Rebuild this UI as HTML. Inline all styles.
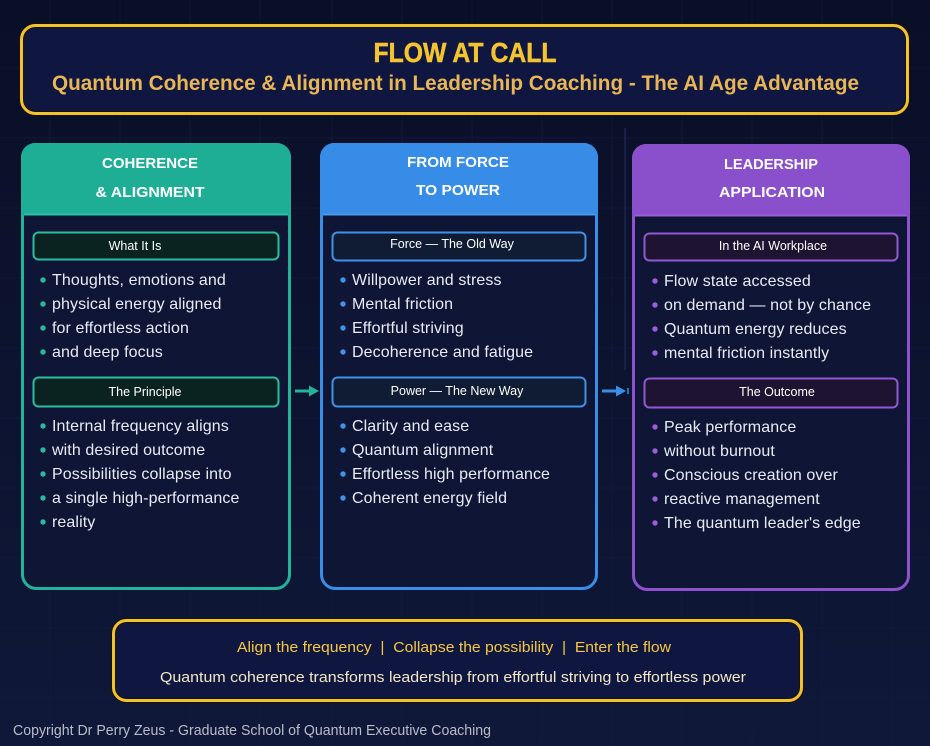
<!DOCTYPE html>
<html><head><meta charset="utf-8"><style>
html,body{margin:0;padding:0;background:#0c1230;}
svg{display:block;}
</style></head><body>
<svg width="930" height="746" viewBox="0 0 930 746" xmlns="http://www.w3.org/2000/svg">
<defs>
<linearGradient id="bg" x1="0" y1="0" x2="0" y2="1">
<stop offset="0" stop-color="#0a0f27"/>
<stop offset="1" stop-color="#0f1839"/>
</linearGradient>
</defs>
<rect width="930" height="746" fill="url(#bg)"/>
<g stroke="#151d40" stroke-width="1" opacity="0.6">
<line x1="50" y1="0" x2="50" y2="746"/><line x1="120" y1="0" x2="120" y2="746"/><line x1="190" y1="0" x2="190" y2="746"/><line x1="260" y1="0" x2="260" y2="746"/><line x1="332" y1="0" x2="332" y2="746"/><line x1="402" y1="0" x2="402" y2="746"/><line x1="472" y1="0" x2="472" y2="746"/><line x1="542" y1="0" x2="542" y2="746"/><line x1="612" y1="0" x2="612" y2="746"/><line x1="682" y1="0" x2="682" y2="746"/><line x1="752" y1="0" x2="752" y2="746"/><line x1="822" y1="0" x2="822" y2="746"/><line x1="892" y1="0" x2="892" y2="746"/>
<line x1="0" y1="68" x2="930" y2="68"/><line x1="0" y1="138" x2="930" y2="138"/><line x1="0" y1="208" x2="930" y2="208"/><line x1="0" y1="278" x2="930" y2="278"/><line x1="0" y1="348" x2="930" y2="348"/><line x1="0" y1="418" x2="930" y2="418"/><line x1="0" y1="488" x2="930" y2="488"/><line x1="0" y1="558" x2="930" y2="558"/><line x1="0" y1="628" x2="930" y2="628"/><line x1="0" y1="698" x2="930" y2="698"/>
</g>
<line x1="625" y1="128" x2="625" y2="370" stroke="#182048" stroke-width="2"/>

<!-- Title box -->
<rect x="21.5" y="25.5" width="886" height="88" rx="14" fill="#0f1640" stroke="#1a1200" stroke-width="5"/>
<rect x="21.5" y="25.5" width="886" height="88" rx="14" fill="none" stroke="#f1c232" stroke-width="3"/>
<text x="465" y="62" text-anchor="middle" font-family="Liberation Sans, sans-serif" font-weight="bold" font-size="28" fill="#f4c430" stroke="#f4c430" stroke-width="0.5" textLength="183" lengthAdjust="spacingAndGlyphs">FLOW AT CALL</text>
<text x="455.5" y="90" text-anchor="middle" font-family="Liberation Sans, sans-serif" font-weight="bold" font-size="21" fill="#e8b656" textLength="807" lengthAdjust="spacingAndGlyphs">Quantum Coherence &amp; Alignment in Leadership Coaching - The AI Age Advantage</text>

<!-- Panel 1 -->
<rect x="22.5" y="144.5" width="267" height="444" rx="14" fill="#0e1535" stroke="#22b39a" stroke-width="3"/>
<path d="M21 215 V157 a14 14 0 0 1 14 -14 H277 a14 14 0 0 1 14 14 V215 Z" fill="#1eae95"/>
<line x1="24" y1="214.5" x2="288" y2="214.5" stroke="#2ac2a6" stroke-width="2"/>
<g font-family="Liberation Sans, sans-serif" font-weight="bold" font-size="15" fill="#ffffff" text-anchor="middle">
<text x="150" y="168" textLength="96" lengthAdjust="spacingAndGlyphs">COHERENCE</text>
<text x="150" y="197" textLength="109" lengthAdjust="spacingAndGlyphs">&amp; ALIGNMENT</text>
</g>
<rect x="33.5" y="232.5" width="245" height="27" rx="5" fill="#0b2320" stroke="#2bbd9f" stroke-width="2"/>
<rect x="33.5" y="377.5" width="245" height="29" rx="5" fill="#0b2320" stroke="#2bbd9f" stroke-width="2"/>
<g font-family="Liberation Sans, sans-serif" font-size="12.5" fill="#ffffff" text-anchor="middle">
<text x="135" y="250">What It Is</text>
<text x="145" y="396">The Principle</text>
</g>
<g fill="#2ab89d">
<circle cx="43" cy="280" r="2.7"/><circle cx="43" cy="304" r="2.7"/><circle cx="43" cy="328" r="2.7"/><circle cx="43" cy="352" r="2.7"/>
<circle cx="43" cy="426" r="2.7"/><circle cx="43" cy="450" r="2.7"/><circle cx="43" cy="474" r="2.7"/><circle cx="43" cy="498" r="2.7"/><circle cx="43" cy="522" r="2.7"/>
</g>
<g font-family="Liberation Sans, sans-serif" font-size="16" fill="#e9ecf5" letter-spacing="0.1">
<text x="52" y="285">Thoughts, emotions and</text>
<text x="52" y="309">physical energy aligned</text>
<text x="52" y="333">for effortless action</text>
<text x="52" y="357">and deep focus</text>
<text x="52" y="431">Internal frequency aligns</text>
<text x="52" y="455">with desired outcome</text>
<text x="52" y="479">Possibilities collapse into</text>
<text x="52" y="503">a single high-performance</text>
<text x="52" y="527">reality</text>
</g>

<!-- Arrow 1 -->
<line x1="295" y1="391" x2="311" y2="391" stroke="#22b39a" stroke-width="3"/>
<polygon points="309,385.5 319,391 309,396.5" fill="#22b39a"/>

<!-- Panel 2 -->
<rect x="321.5" y="144.5" width="275" height="444" rx="14" fill="#0e1535" stroke="#3a8ee6" stroke-width="3"/>
<path d="M320 215 V157 a14 14 0 0 1 14 -14 H584 a14 14 0 0 1 14 14 V215 Z" fill="#368ce6"/>
<line x1="323" y1="214.5" x2="595" y2="214.5" stroke="#4a9af0" stroke-width="2"/>
<g font-family="Liberation Sans, sans-serif" font-weight="bold" font-size="15" fill="#ffffff" text-anchor="middle">
<text x="458" y="167" textLength="102" lengthAdjust="spacingAndGlyphs">FROM FORCE</text>
<text x="458" y="195" textLength="84" lengthAdjust="spacingAndGlyphs">TO POWER</text>
</g>
<rect x="332.5" y="232.5" width="253" height="28" rx="5" fill="#0f1c33" stroke="#3f92e8" stroke-width="2"/>
<rect x="332.5" y="377.5" width="253" height="29" rx="5" fill="#0f1c33" stroke="#3f92e8" stroke-width="2"/>
<g font-family="Liberation Sans, sans-serif" font-size="12.5" fill="#ffffff" text-anchor="middle">
<text x="452" y="248">Force — The Old Way</text>
<text x="457" y="395">Power — The New Way</text>
</g>
<g fill="#3f92e8">
<circle cx="343" cy="280" r="2.7"/><circle cx="343" cy="304" r="2.7"/><circle cx="343" cy="328" r="2.7"/><circle cx="343" cy="352" r="2.7"/>
<circle cx="343" cy="426" r="2.7"/><circle cx="343" cy="450" r="2.7"/><circle cx="343" cy="474" r="2.7"/><circle cx="343" cy="498" r="2.7"/>
</g>
<g font-family="Liberation Sans, sans-serif" font-size="16" fill="#e9ecf5" letter-spacing="0.1">
<text x="352" y="285">Willpower and stress</text>
<text x="352" y="309">Mental friction</text>
<text x="352" y="333">Effortful striving</text>
<text x="352" y="357">Decoherence and fatigue</text>
<text x="352" y="431">Clarity and ease</text>
<text x="352" y="455">Quantum alignment</text>
<text x="352" y="479">Effortless high performance</text>
<text x="352" y="503">Coherent energy field</text>
</g>

<!-- Arrow 2 -->
<line x1="602" y1="391" x2="618" y2="391" stroke="#3a8ee6" stroke-width="3"/>
<polygon points="616,385.5 626,391 616,396.5" fill="#3a8ee6"/>
<line x1="628" y1="388" x2="628" y2="394" stroke="#3a8ee6" stroke-width="1.5"/>

<!-- Panel 3 -->
<rect x="633.5" y="145.5" width="275" height="444" rx="14" fill="#0e1535" stroke="#8e52cf" stroke-width="3"/>
<path d="M632 216 V158 a14 14 0 0 1 14 -14 H896 a14 14 0 0 1 14 14 V216 Z" fill="#8a4fcb"/>
<line x1="635" y1="215.5" x2="907" y2="215.5" stroke="#9a5edc" stroke-width="2"/>
<g font-family="Liberation Sans, sans-serif" font-weight="bold" font-size="15" fill="#ffffff" text-anchor="middle">
<text x="771" y="169" textLength="94" lengthAdjust="spacingAndGlyphs">LEADERSHIP</text>
<text x="772" y="197" textLength="106" lengthAdjust="spacingAndGlyphs">APPLICATION</text>
</g>
<rect x="644.5" y="233.5" width="253" height="27" rx="5" fill="#1e1330" stroke="#9257d4" stroke-width="2"/>
<rect x="644.5" y="378.5" width="253" height="29" rx="5" fill="#1e1330" stroke="#9257d4" stroke-width="2"/>
<g font-family="Liberation Sans, sans-serif" font-size="12.5" fill="#ffffff" text-anchor="middle">
<text x="773" y="250">In the AI Workplace</text>
<text x="777" y="396">The Outcome</text>
</g>
<g fill="#9a5edc">
<circle cx="655" cy="281" r="2.7"/><circle cx="655" cy="305" r="2.7"/><circle cx="655" cy="329" r="2.7"/><circle cx="655" cy="353" r="2.7"/>
<circle cx="655" cy="427" r="2.7"/><circle cx="655" cy="451" r="2.7"/><circle cx="655" cy="475" r="2.7"/><circle cx="655" cy="499" r="2.7"/><circle cx="655" cy="523" r="2.7"/>
</g>
<g font-family="Liberation Sans, sans-serif" font-size="16" fill="#e9ecf5" letter-spacing="0.1">
<text x="664" y="286">Flow state accessed</text>
<text x="664" y="310">on demand — not by chance</text>
<text x="664" y="334">Quantum energy reduces</text>
<text x="664" y="358">mental friction instantly</text>
<text x="664" y="432">Peak performance</text>
<text x="664" y="456">without burnout</text>
<text x="664" y="480">Conscious creation over</text>
<text x="664" y="504">reactive management</text>
<text x="664" y="528">The quantum leader's edge</text>
</g>

<!-- Bottom box -->
<rect x="113.5" y="620.5" width="688" height="80" rx="13" fill="#0f1740" stroke="#1a1200" stroke-width="5"/>
<rect x="113.5" y="620.5" width="688" height="80" rx="13" fill="none" stroke="#f0c232" stroke-width="3"/>
<text x="454" y="652" text-anchor="middle" font-family="Liberation Sans, sans-serif" font-size="15" fill="#f5c842" textLength="434" lengthAdjust="spacingAndGlyphs">Align the frequency&#160;&#160;|&#160;&#160;Collapse the possibility&#160;&#160;|&#160;&#160;Enter the flow</text>
<text x="453" y="682" text-anchor="middle" font-family="Liberation Sans, sans-serif" font-size="15" fill="#f3e7c4" textLength="586" lengthAdjust="spacingAndGlyphs">Quantum coherence transforms leadership from effortful striving to effortless power</text>

<!-- Copyright -->
<text x="13" y="735" font-family="Liberation Sans, sans-serif" font-size="15" fill="#b9bdc9" textLength="478" lengthAdjust="spacingAndGlyphs">Copyright Dr Perry Zeus - Graduate School of Quantum Executive Coaching</text>
</svg>
</body></html>
